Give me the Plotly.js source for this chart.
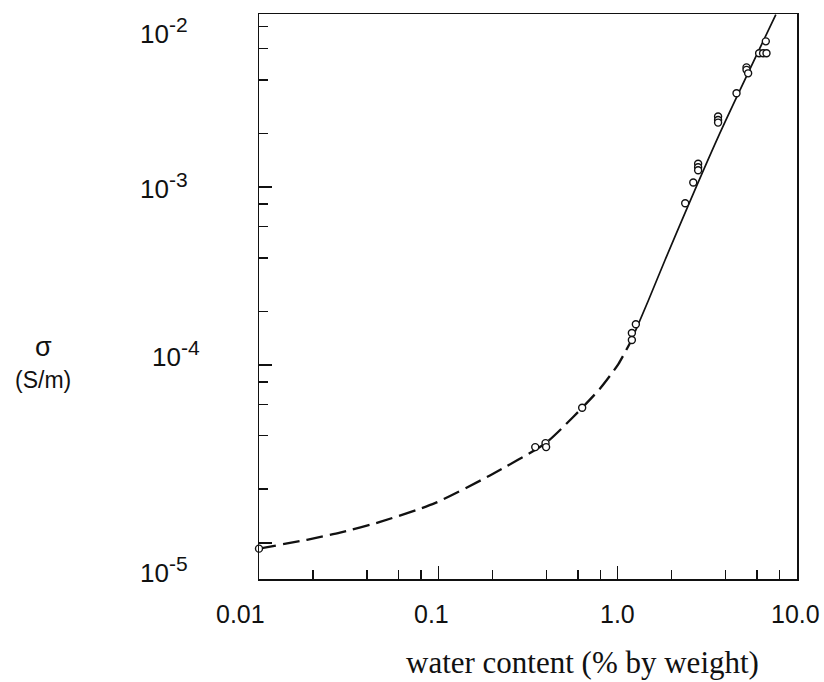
<!DOCTYPE html>
<html>
<head>
<meta charset="utf-8">
<script src="https://cdn.plot.ly/plotly-3.0.1.min.js"></script>
<style>html,body{margin:0;padding:0;background:#fff;}#chart{width:824px;height:682px;}</style>
</head>
<body>
<div id="chart"></div>
<script>
// measured samples: water content (% by weight) and conductivity sigma (S/m)
const waterContent = [6.70, 6.15, 6.47, 6.76, 5.23, 5.23, 5.34, 4.60, 3.63, 3.63, 3.63, 2.81, 2.81, 2.81, 2.64, 2.38, 1.263, 1.20, 1.20, 0.634, 0.347, 0.396, 0.399, 0.01];
const conductivity = [6.58e-3, 5.64e-3, 5.64e-3, 5.64e-3, 4.70e-3, 4.55e-3, 4.35e-3, 3.36e-3, 2.49e-3, 2.38e-3, 2.30e-3, 1.35e-3, 1.29e-3, 1.24e-3, 1.06e-3, 8.10e-4, 1.69e-4, 1.51e-4, 1.38e-4, 5.74e-5, 3.45e-5, 3.63e-5, 3.45e-5, 9.27e-6];

// fitted curve: dashed (extrapolated) part and solid part
const fitLowX = [0.01, 0.0185, 0.0283, 0.0473, 0.0957, 0.194, 0.396, 0.563, 0.796, 1.009, 1.20];
const fitLowY = [9.27e-6, 1.04e-5, 1.14e-5, 1.31e-5, 1.67e-5, 2.39e-5, 3.63e-5, 5.08e-5, 7.34e-5, 1.01e-4, 1.39e-4];
const fitHighX = [1.20, 1.483, 1.833, 3.71, 7.62];
const fitHighY = [1.39e-4, 2.30e-4, 3.86e-4, 2.0e-3, 9.30e-3];

// ticks and labels
const xMajorTicks = [0.01, 0.1, 1, 10];
const xMinorTicks = [0.02, 0.04, 0.06, 0.08, 0.2, 0.4, 0.6, 0.8, 2, 4, 6, 8];
const xTickLabels = ["0.01", "0.1", "1.0", "10.0"];
const yMajorTicks = [1e-5, 1e-4, 1e-3, 1e-2];
const yMinorTicks = [2e-5, 4e-5, 6e-5, 8e-5, 2e-4, 4e-4, 6e-4, 8e-4, 2e-3, 4e-3, 6e-3, 8e-3];
const yTickLabels = ["10<sup>-5</sup>", "10<sup>-4</sup>", "10<sup>-3</sup>", "10<sup>-2</sup>"];
const xTitle = "water content (% by weight)";
const yTitleTop = "σ";
const yTitleBottom = "(S/m)";

// layout geometry (pixels)
const W = 824, H = 682;
const L = 259, R = 797.5, T = 13.5, B = 579.5;
const px = v => (v - L) / (R - L);
const py = v => (B - v) / (B - T);

const sans = "Liberation Sans, Arial, sans-serif";
const serif = "Liberation Serif, Times New Roman, serif";
const ink = "#111";

// placement of label text as in the figure
const xLabelPos = [[240, 615], [432, 615], [618, 615], [796, 615]];
const yLabelPos = [[190, 570], [202, 354], [190, 186], [190, 31]]; // 1e-5, 1e-4, 1e-3, 1e-2

const supStyle = s => s.replace("<sup>", "<sup><span style='font-size:21px'>").replace("</sup>", "</span></sup>");

const annotations = [];
xTickLabels.forEach((t, i) => {
  annotations.push({text: t, xref: "paper", yref: "paper", x: px(xLabelPos[i][0]), y: py(xLabelPos[i][1]),
    xanchor: "center", yanchor: "middle", showarrow: false, font: {family: sans, size: 25, color: ink}});
});
yTickLabels.forEach((t, i) => {
  annotations.push({text: supStyle(t), xref: "paper", yref: "paper", x: px(yLabelPos[i][0]), y: py(yLabelPos[i][1]),
    xanchor: "right", yanchor: "middle", showarrow: false, font: {family: sans, size: 26, color: ink}});
});
annotations.push({text: xTitle, xref: "paper", yref: "paper", x: px(583), y: py(663), xanchor: "center", yanchor: "middle",
  showarrow: false, font: {family: serif, size: 31, color: ink}});
annotations.push({text: yTitleTop, xref: "paper", yref: "paper", x: px(43), y: py(347), xanchor: "center", yanchor: "middle",
  showarrow: false, font: {family: sans, size: 27, color: ink}});
annotations.push({text: yTitleBottom, xref: "paper", yref: "paper", x: px(43), y: py(380), xanchor: "center", yanchor: "middle",
  showarrow: false, font: {family: sans, size: 23, color: ink}});

const traces = [
  {x: fitLowX, y: fitLowY, type: "scatter", mode: "lines", line: {color: ink, width: 2.3, dash: "17px,7px", shape: "spline", smoothing: 0.6}, hoverinfo: "skip"},
  {x: fitHighX, y: fitHighY, type: "scatter", mode: "lines", line: {color: ink, width: 1.7, shape: "spline", smoothing: 0.6}, hoverinfo: "skip"},
  {x: waterContent, y: conductivity, type: "scatter", mode: "markers", cliponaxis: false,
   marker: {symbol: "circle", size: 7, color: "#fff", line: {color: ink, width: 1.4}}}
];

const axisCommon = {type: "log", showgrid: false, zeroline: false, showline: true, linecolor: ink, linewidth: 1.5,
  mirror: true, ticks: "inside", tickcolor: ink, tickwidth: 1.5, ticklen: 13, showticklabels: false, tickmode: "array"};

const layout = {
  width: W, height: H, showlegend: false,
  paper_bgcolor: "#fff", plot_bgcolor: "#fff",
  margin: {l: L, r: W - R, t: T, b: H - B, pad: 0},
  xaxis: Object.assign({}, axisCommon, {range: [-2, 1], tickvals: xMajorTicks,
    minor: {tickmode: "array", tickvals: xMinorTicks, ticks: "inside", ticklen: 9, tickcolor: ink, tickwidth: 1.5}}),
  yaxis: Object.assign({}, axisCommon, {range: [-5.2035, -2.028], tickvals: yMajorTicks,
    minor: {tickmode: "array", tickvals: yMinorTicks, ticks: "inside", ticklen: 9, tickcolor: ink, tickwidth: 1.5}}),
  annotations: annotations
};

Plotly.newPlot("chart", traces, layout, {staticPlot: true, displayModeBar: false});
</script>
</body>
</html>
